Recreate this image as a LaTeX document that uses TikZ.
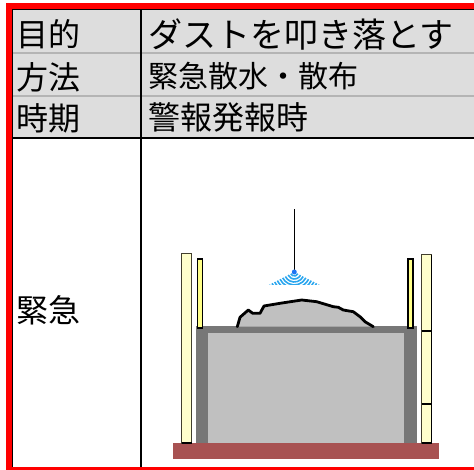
\documentclass[tikz,border=0pt]{standalone}
\usepackage{fontspec}
\setmainfont{Noto Sans CJK JP}
\definecolor{cellgray}{HTML}{DDDDDD}
\definecolor{sepgray}{HTML}{B4B4B4}
\definecolor{wallgray}{HTML}{777777}
\definecolor{soilgray}{HTML}{C0C0C0}
\definecolor{basered}{HTML}{A85252}
\definecolor{polecream}{HTML}{FFFFCC}
\definecolor{poleyellow}{HTML}{FFFF88}
\definecolor{sprayblue}{HTML}{2AA6EE}
\tikzset{
	cell/.style = {anchor = west, inner sep = 0pt, font = \fontsize{32}{32}\selectfont},
	cellbig/.style = {cell, font = \fontsize{34}{34}\selectfont},
	cellsmall/.style = {cell, font = \fontsize{30}{30}\selectfont},
	tline/.style = {draw = black, line width = 2pt},
	pole/.style = {draw = black!70!olive, fill = polecream, line width = 1pt},
	thinpole/.style = {draw = black, fill = poleyellow, line width = 1.2pt},
	spray/.style = {draw = sprayblue, line width = 1.6pt}
}
\def\moundline{(237.3,326.7) -- (240,317.3) -- (248.3,310) -- (252.7,313.3) -- (260,313.3) -- (264,306) -- (280,303.3) -- (301.7,300) -- (316.7,301.7) -- (333.3,306.7) -- (338.3,307.3) -- (343.3,310) -- (353.3,311.7) -- (360,316.7) -- (365,321.7) -- (373.3,326.7)}
\begin{document}
\begin{tikzpicture}[x = 1pt, y = -1pt]
		\useasboundingbox (0, 0) rectangle (474, 470);
		\clip (0, 0) rectangle (474, 470);
			\fill [cellgray] (12, 10) rectangle (474, 138);
			\draw [sepgray, line width = 2.5pt] (12, 53) -- (474, 53);
			\draw [sepgray, line width = 2.5pt] (12, 96) -- (474, 96);
			\draw [tline] (12, 138) -- (474, 138);
			\draw [tline] (141, 10) -- (141, 470);
			\draw [black, line width = 1pt] (12, 9.5) -- (474, 9.5);
			\draw [black, line width = 1pt] (12.5, 9) -- (12.5, 470);
			\draw [red, line width = 6pt] (9, 6) rectangle (490, 470);

			\node[cell] (purpose) at (16, 34) {目的};
			\node[cellbig] (dusttext) at (148, 34) {ダストを叩き落とす};
			\node[cell] (method) at (16, 77) {方法};
			\node[cellsmall] (spraytext) at (148, 76) {緊急散水・散布};
			\node[cell] (period) at (16, 118) {時期};
			\node[cell] (alerttext) at (148, 117) {警報発報時};
			\node[cell] (urgent) at (16, 310) {緊急};

			\fill [basered] (173.3, 442.7) rectangle (439, 459);
			\fill [wallgray] (195.7, 326) rectangle (416.7, 443);
			\fill [soilgray] (208.3, 333) rectangle (404.3, 443);
			\fill [soilgray] \moundline -- cycle;
			\draw [black, line width = 2.8pt, line join = round, line cap = round] \moundline;

			\draw [pole] (181.7, 254) rectangle (191.7, 443);
			\draw [black, line width = 2pt] (181.7, 443) -- (191.7, 443);
			\draw [pole] (421.7, 255) rectangle (431.7, 443);
			\draw [black, line width = 1pt] (431.7, 255) -- (431.7, 443);
			\draw [black, line width = 1.2pt] (421.7, 331) -- (431.7, 331);
			\draw [black, line width = 1.2pt] (421.7, 404) -- (431.7, 404);
			\draw [black, line width = 2pt] (421.7, 443) -- (431.7, 443);
			\draw [thinpole] (197.7, 259) rectangle (202.7, 328);
			\draw [thinpole] (408, 259) rectangle (413, 328);

			\coordinate (nozzle) at (294.3, 272);
			\coordinate (mast) at (294.3, 209.3);
			\draw [black, line width = 1.5pt] (mast) -- (nozzle);
			\begin{scope}
				\clip (268, 268) rectangle (321, 284.5);
				\foreach \r in {4, 7, ..., 28}
					\draw [spray] ([shift = {(27:\r)}]nozzle) arc [start angle = 27, end angle = 153, radius = \r];
			\end{scope}
			\fill [sprayblue!70!blue] (nozzle) circle (2.5);
\end{tikzpicture}
\end{document}
